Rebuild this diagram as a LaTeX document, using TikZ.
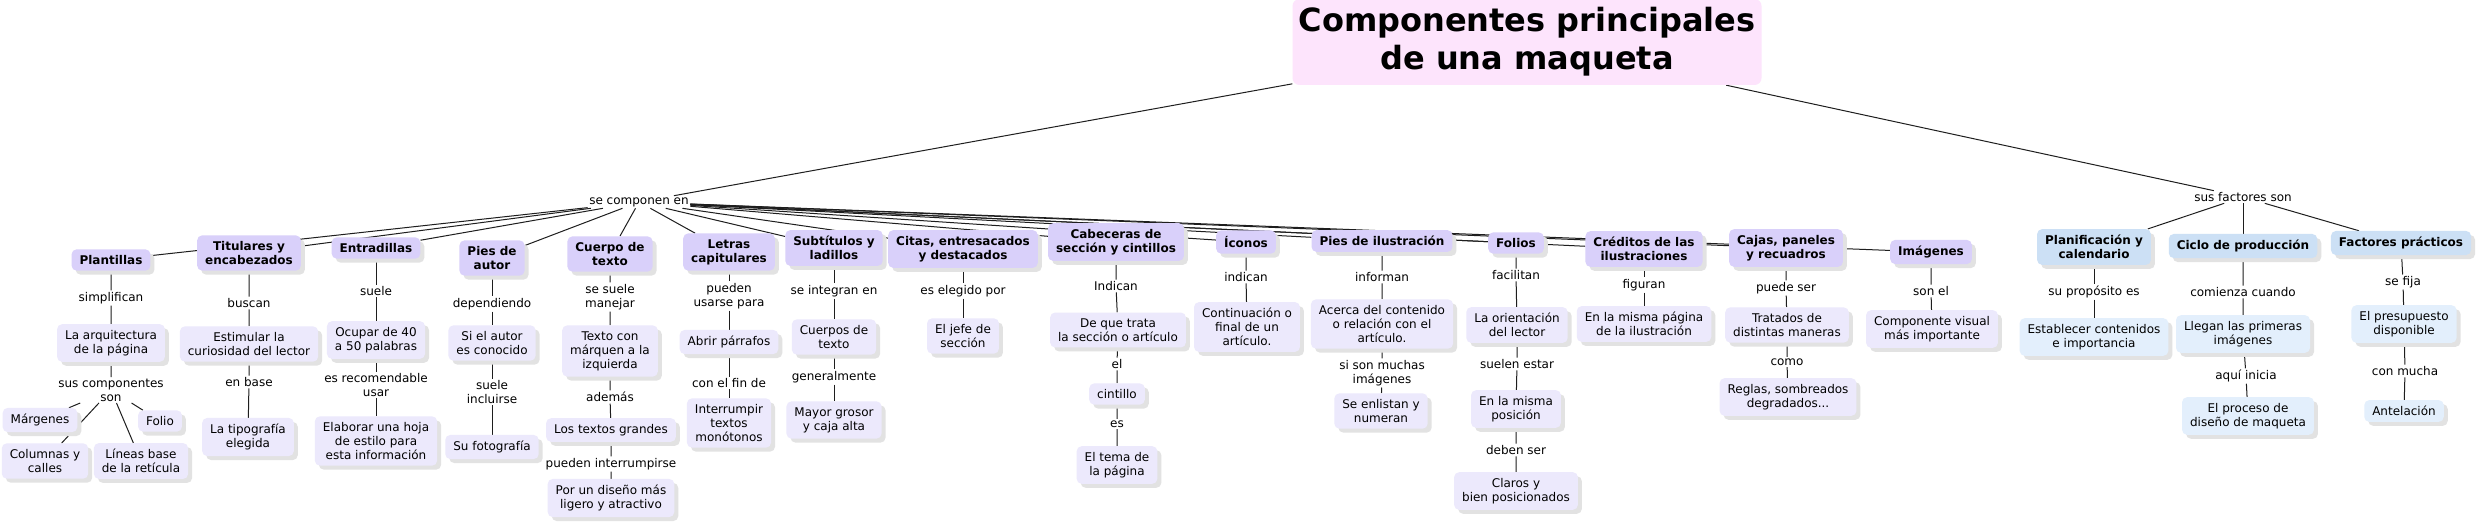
\documentclass[tikz,border=0pt]{standalone}
\usepackage{fontspec}
\setmainfont{DejaVu Sans}
\usetikzlibrary{shadows,backgrounds}
\definecolor{lavtop}{RGB}{217,208,250}
\definecolor{lavsub}{RGB}{236,233,252}
\definecolor{bluetop}{RGB}{204,224,245}
\definecolor{bluesub}{RGB}{227,239,252}
\definecolor{pinkc}{RGB}{253,228,252}
\definecolor{shadowc}{RGB}{226,226,226}
\definecolor{linec}{RGB}{30,30,30}
\begin{document}
\begin{tikzpicture}[x=1pt,y=-1pt,
  base/.style={rounded corners=5pt, align=center, inner xsep=8pt, inner ysep=6pt,
    font=\fontsize{12}{14}\selectfont,
    drop shadow={shadow xshift=4pt, shadow yshift=-4pt, fill=shadowc, opacity=1}},
  top/.style={base, fill=lavtop, font=\fontsize{12}{14}\selectfont\bfseries},
  sub/.style={base, fill=lavsub},
  btop/.style={base, fill=bluetop, font=\fontsize{12}{14}\selectfont\bfseries},
  bsub/.style={base, fill=bluesub},
  lbl/.style={align=center, inner sep=1.5pt, font=\fontsize{12}{14}\selectfont},
  conn/.style={draw=linec, line width=1pt}
]
\useasboundingbox (0,0) rectangle (2477,527);

% title
\node[fill=pinkc, rounded corners=7pt, align=center, minimum width=469pt, minimum height=86pt,
  font=\fontsize{32}{38}\selectfont\bfseries] (title) at (1527,42) {Componentes principales\\de una maqueta};

\node[lbl] (hub) at (639,202) {se componen en};
\node[lbl] (fac) at (2243,197) {sus factores son};

% top-level concepts
\node[top] (plant) at (111,260) {Plantillas};
\node[top] (titul) at (249,253) {Titulares y\\encabezados};
\node[top] (entra) at (376,248) {Entradillas};
\node[top] (piesa) at (492,258) {Pies de\\autor};
\node[top] (cuerpo) at (610,254) {Cuerpo de\\texto};
\node[top] (letras) at (729,252) {Letras\\capitulares};
\node[top] (subt) at (834,248) {Subtítulos y\\ladillos};
\node[top] (citas) at (963,249) {Citas, entresacados\\y destacados};
\node[top] (cabec) at (1116,242) {Cabeceras de\\sección y cintillos};
\node[top] (iconos) at (1246,242) {Íconos};
\node[top] (piesi) at (1382,241) {Pies de ilustración};
\node[top] (folios) at (1516,243) {Folios};
\node[top] (cred) at (1644,249) {Créditos de las\\ilustraciones};
\node[top] (cajas) at (1786,248) {Cajas, paneles\\y recuadros};
\node[top] (imag) at (1931,252) {Imágenes};
\node[btop] (plan) at (2094,247) {Planificación y\\calendario};
\node[btop] (ciclo) at (2243,246) {Ciclo de producción};
\node[btop] (factp) at (2401,243) {Factores prácticos};

% Plantillas
\node[lbl] (l1) at (111,298) {simplifican};
\node[sub] (arq) at (111,343) {La arquitectura\\de la página};
\node[lbl] (l2) at (111,390) {sus componentes\\son};
\node[sub] (marg) at (40,420) {Márgenes};
\node[sub] (folio) at (160,421) {Folio};
\node[sub] (col) at (45,461) {Columnas y\\calles};
\node[sub] (lin) at (141,461) {Líneas base\\de la retícula};

% Titulares
\node[lbl] (l3) at (249,303) {buscan};
\node[sub] (est) at (249,344) {Estimular la\\curiosidad del lector};
\node[lbl] (l4) at (249,382) {en base};
\node[sub] (tip) at (248,437) {La tipografía\\elegida};

% Entradillas
\node[lbl] (l5) at (376,291) {suele};
\node[sub] (ocu) at (376,340) {Ocupar de 40\\a 50 palabras};
\node[lbl] (l6) at (376,385) {es recomendable\\usar};
\node[sub] (ela) at (376,441) {Elaborar una hoja\\de estilo para\\esta información};

% Pies de autor
\node[lbl] (l7) at (492,304) {dependiendo};
\node[sub] (siel) at (492,343) {Si el autor\\es conocido};
\node[lbl] (l8) at (492,392) {suele\\incluirse};
\node[sub] (foto) at (492,447) {Su fotografía};

% Cuerpo de texto
\node[lbl] (l9) at (610,297) {se suele\\manejar};
\node[sub] (txt) at (610,351) {Texto con\\márquen a la\\izquierda};
\node[lbl] (l10) at (610,397) {además};
\node[sub] (grand) at (611,430) {Los textos grandes};
\node[lbl] (l11) at (611,464) {pueden interrumpirse};
\node[sub] (dis) at (611,498) {Por un diseño más\\ligero y atractivo};

% Letras capitulares
\node[lbl] (l12) at (729,296) {pueden\\usarse para};
\node[sub] (abr) at (729,342) {Abrir párrafos};
\node[lbl] (l13) at (729,383) {con el fin de};
\node[sub] (intr) at (729,423) {Interrumpir\\textos\\monótonos};

% Subtitulos
\node[lbl] (l14) at (834,291) {se integran en};
\node[sub] (cue) at (834,337) {Cuerpos de\\texto};
\node[lbl] (l15) at (834,377) {generalmente};
\node[sub] (may) at (834,420) {Mayor grosor\\y caja alta};

% Citas
\node[lbl] (l16) at (963,291) {es elegido por};
\node[sub] (jefe) at (963,336) {El jefe de\\sección};

% Cabeceras
\node[lbl] (l17) at (1116,286) {Indican};
\node[sub] (deq) at (1118,330) {De que trata\\la sección o artículo};
\node[lbl] (l18) at (1117,364) {el};
\node[sub] (cint) at (1117,394) {cintillo};
\node[lbl] (l19) at (1117,424) {es};
\node[sub] (tema) at (1117,465) {El tema de\\la página};

% Iconos
\node[lbl] (l20) at (1246,277) {indican};
\node[sub] (cont) at (1247,327) {Continuación o\\final de un\\artículo.};

% Pies de ilustracion
\node[lbl] (l21) at (1382,277) {informan};
\node[sub] (ace) at (1382,324) {Acerca del contenido\\o relación con el\\artículo.};
\node[lbl] (l22) at (1382,373) {si son muchas\\imágenes};
\node[sub] (enl) at (1381,411) {Se enlistan y\\numeran};

% Folios
\node[lbl] (l23) at (1516,275) {facilitan};
\node[sub] (ori) at (1517,325) {La orientación\\del lector};
\node[lbl] (l24) at (1517,364) {suelen estar};
\node[sub] (mis) at (1516,409) {En la misma\\posición};
\node[lbl] (l25) at (1516,450) {deben ser};
\node[sub] (cla) at (1516,491) {Claros y\\bien posicionados};

% Creditos
\node[lbl] (l26) at (1644,285) {figuran};
\node[sub] (pag) at (1644,324) {En la misma página\\de la ilustración};

% Cajas
\node[lbl] (l27) at (1786,288) {puede ser};
\node[sub] (trat) at (1787,325) {Tratados de\\distintas maneras};
\node[lbl] (l28) at (1787,362) {como};
\node[sub] (reg) at (1788,397) {Reglas, sombreados\\degradados...};

% Imagenes
\node[lbl] (l29) at (1931,291) {son el};
\node[sub] (comp) at (1932,329) {Componente visual\\más importante};

% Planificacion
\node[lbl] (l30) at (2094,292) {su propósito es};
\node[bsub] (estab) at (2094,337) {Establecer contenidos\\e importancia};

% Ciclo
\node[lbl] (l31) at (2243,292) {comienza cuando};
\node[bsub] (lleg) at (2243,334) {Llegan las primeras\\imágenes};
\node[lbl] (l32) at (2246,376) {aquí inicia};
\node[bsub] (proc) at (2248,416) {El proceso de\\diseño de maqueta};

% Factores practicos
\node[lbl] (l33) at (2403,282) {se fija};
\node[bsub] (pres) at (2404,324) {El presupuesto\\disponible};
\node[lbl] (l34) at (2405,371) {con mucha};
\node[bsub] (ant) at (2404,411) {Antelación};

\begin{scope}[on background layer]
\fill[white] (0,0) rectangle (2477,527);
\draw[conn] (title) -- (hub);
\draw[conn] (title) -- (fac);
\foreach \n in {plant,titul,entra,piesa,cuerpo,letras,subt,citas,cabec,iconos,piesi,folios,cred,cajas,imag}
  \draw[conn] (hub) -- (\n);
\foreach \n in {plan,ciclo,factp}
  \draw[conn] (fac) -- (\n);
\draw[conn] (plant) -- (l1) (l1) -- (arq) (arq) -- (l2)
  (l2) -- (marg) (l2) -- (folio) (l2) -- (col) (l2) -- (lin);
\draw[conn] (titul) -- (l3) (l3) -- (est) (est) -- (l4) (l4) -- (tip);
\draw[conn] (entra) -- (l5) (l5) -- (ocu) (ocu) -- (l6) (l6) -- (ela);
\draw[conn] (piesa) -- (l7) (l7) -- (siel) (siel) -- (l8) (l8) -- (foto);
\draw[conn] (cuerpo) -- (l9) (l9) -- (txt) (txt) -- (l10) (l10) -- (grand) (grand) -- (l11) (l11) -- (dis);
\draw[conn] (letras) -- (l12) (l12) -- (abr) (abr) -- (l13) (l13) -- (intr);
\draw[conn] (subt) -- (l14) (l14) -- (cue) (cue) -- (l15) (l15) -- (may);
\draw[conn] (citas) -- (l16) (l16) -- (jefe);
\draw[conn] (cabec) -- (l17) (l17) -- (deq) (deq) -- (l18) (l18) -- (cint) (cint) -- (l19) (l19) -- (tema);
\draw[conn] (iconos) -- (l20) (l20) -- (cont);
\draw[conn] (piesi) -- (l21) (l21) -- (ace) (ace) -- (l22) (l22) -- (enl);
\draw[conn] (folios) -- (l23) (l23) -- (ori) (ori) -- (l24) (l24) -- (mis) (mis) -- (l25) (l25) -- (cla);
\draw[conn] (cred) -- (l26) (l26) -- (pag);
\draw[conn] (cajas) -- (l27) (l27) -- (trat) (trat) -- (l28) (l28) -- (reg);
\draw[conn] (imag) -- (l29) (l29) -- (comp);
\draw[conn] (plan) -- (l30) (l30) -- (estab);
\draw[conn] (ciclo) -- (l31) (l31) -- (lleg) (lleg) -- (l32) (l32) -- (proc);
\draw[conn] (factp) -- (l33) (l33) -- (pres) (pres) -- (l34) (l34) -- (ant);
\end{scope}
\end{tikzpicture}
\end{document}
